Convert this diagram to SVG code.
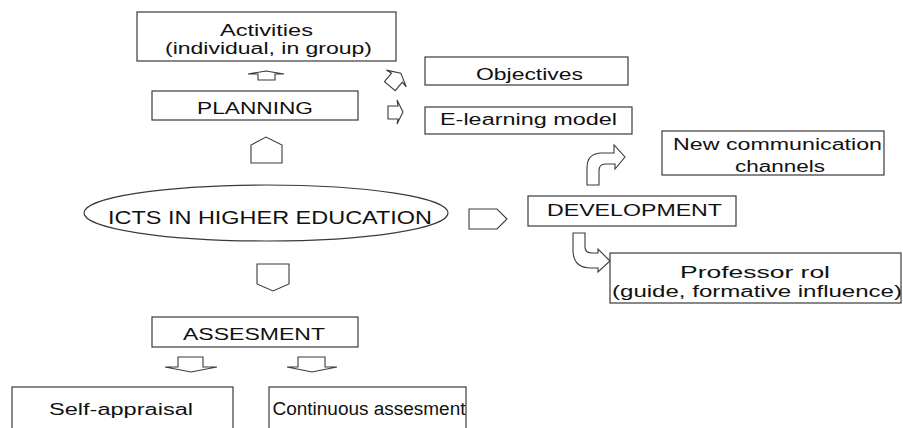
<svg xmlns="http://www.w3.org/2000/svg" width="903" height="428" viewBox="0 0 903 428">
  <style>
    .box { fill: #fff; stroke: #3a3a3a; stroke-width: 1.2; }
    .arr { fill: #fff; stroke: #3a3a3a; stroke-width: 1.1; stroke-linejoin: miter; }
    .t { font-family: "Liberation Sans", Arial, sans-serif; font-size: 16px; fill: #111; text-anchor: middle; }
  </style>
  <rect width="903" height="428" fill="#fff"/>

  <g id="connectors">
    <!-- flat-head block arrows -->
    <polygon class="arr" points="258,80 258,74 248,74 266,71 284,74 275,74 275,80"/>
    <polygon class="arr" points="387,105 398,105 397,99 404,112 397,125 398,119 387,119" transform="translate(0 -32) rotate(-50 395 112)"/>
    <polygon class="arr" points="388,106 398,106 397,100 403,112 397,124 398,119 388,119"/>
    <polygon class="arr" points="165,367 178,367 178,357 203,357 203,367 217,367 191,372"/>
    <polygon class="arr" points="287,367 298,367 298,357 325,357 325,367 337,367 312,372"/>
    <!-- pentagon arrows -->
    <polygon class="arr" points="251,163 251,145 266,137 282,145 282,163"/>
    <polygon class="arr" points="469,209 497,209 507,219 497,229 469,229"/>
    <polygon class="arr" points="257,264 289,264 289,284 273,291 257,284"/>
    <!-- bent arrows -->
    <path class="arr" d="M587,185 L587,168 Q587,153 602,153 L614,153 L614,145 L625,157 L615,169 L615,164 L605,164 Q599,164 599,171 L599,185 Z"/>
    <path class="arr" d="M573,233 L585,233 L585,247 Q585,253 592,253 L598,253 L598,249 L610,261 L598,272 L598,268 L591,268 Q573,268 573,250 Z"/>
  </g>

  <g id="activities">
    <rect class="box" x="137" y="12" width="259" height="49"/>
    <text class="t" x="266.5" y="36" textLength="93" lengthAdjust="spacingAndGlyphs">Activities</text>
    <text class="t" x="268.5" y="54" textLength="207" lengthAdjust="spacingAndGlyphs">(individual, in group)</text>
  </g>
  <g id="planning">
    <rect class="box" x="152" y="91" width="206" height="29"/>
    <text class="t" x="255" y="114" textLength="116" lengthAdjust="spacingAndGlyphs">PLANNING</text>
  </g>
  <g id="objectives">
    <rect class="box" x="425" y="57" width="203" height="28"/>
    <text class="t" x="529.5" y="80" textLength="107" lengthAdjust="spacingAndGlyphs">Objectives</text>
  </g>
  <g id="elearning">
    <rect class="box" x="425" y="107" width="207" height="27"/>
    <text class="t" x="528.5" y="125" textLength="177" lengthAdjust="spacingAndGlyphs">E-learning model</text>
  </g>
  <g id="icts">
    <ellipse class="box" cx="266" cy="213" rx="182" ry="28"/>
    <text class="t" x="270" y="224" style="font-size:18px" textLength="324" lengthAdjust="spacingAndGlyphs">ICTS IN HIGHER EDUCATION</text>
  </g>
  <g id="channels">
    <rect class="box" x="662" y="131" width="222" height="44"/>
    <text class="t" x="777.5" y="150" textLength="209" lengthAdjust="spacingAndGlyphs">New communication</text>
    <text class="t" x="780" y="172" textLength="90" lengthAdjust="spacingAndGlyphs">channels</text>
  </g>
  <g id="development">
    <rect class="box" x="528" y="196" width="208" height="30"/>
    <text class="t" x="634.5" y="216" textLength="175" lengthAdjust="spacingAndGlyphs">DEVELOPMENT</text>
  </g>
  <g id="professor">
    <rect class="box" x="610" y="253" width="291" height="50"/>
    <text class="t" x="755" y="278" textLength="150" lengthAdjust="spacingAndGlyphs">Professor rol</text>
    <text class="t" x="757" y="297" textLength="290" lengthAdjust="spacingAndGlyphs">(guide, formative influence)</text>
  </g>
  <g id="assesment">
    <rect class="box" x="152" y="317" width="206" height="30"/>
    <text class="t" x="254" y="340" textLength="142" lengthAdjust="spacingAndGlyphs">ASSESMENT</text>
  </g>
  <g id="self-appraisal">
    <rect class="box" x="12" y="387" width="221" height="50"/>
    <text class="t" x="121" y="415" textLength="144" lengthAdjust="spacingAndGlyphs">Self-appraisal</text>
  </g>
  <g id="continuous">
    <rect class="box" x="269" y="387" width="197" height="50"/>
    <text class="t" x="369" y="415" style="font-size:18px" textLength="193" lengthAdjust="spacingAndGlyphs">Continuous assesment</text>
  </g>
</svg>
